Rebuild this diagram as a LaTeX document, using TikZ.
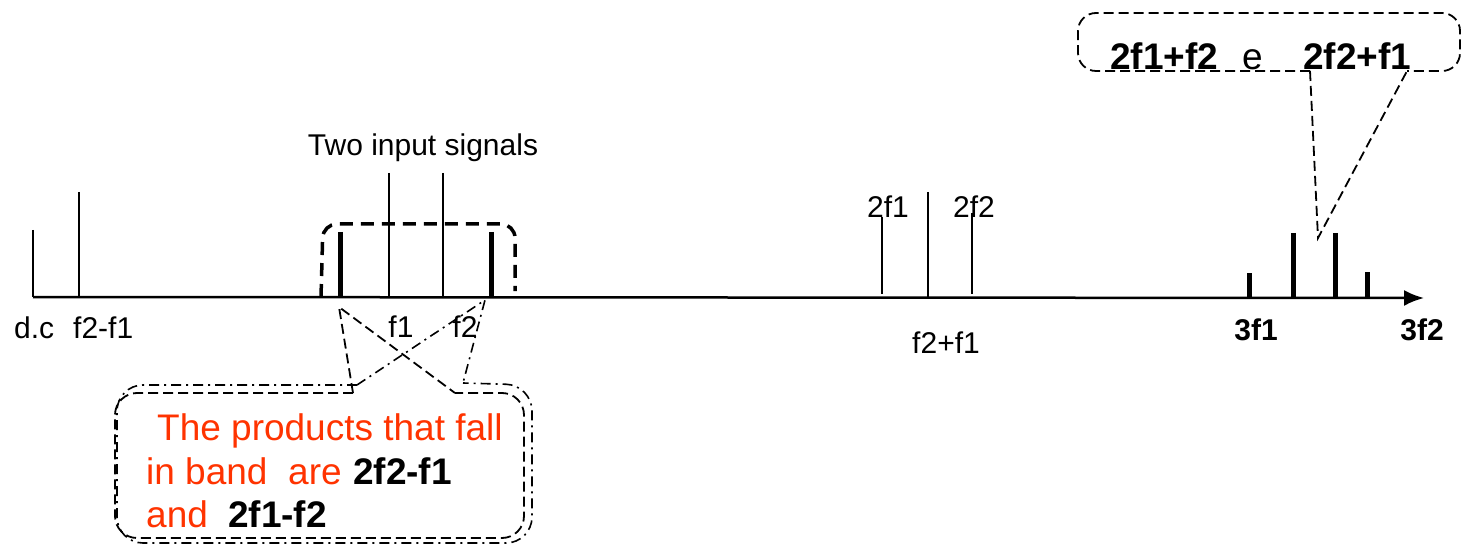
\documentclass[tikz,border=0pt]{standalone}
\usepackage{fontspec}
\setmainfont{Liberation Sans}
\usetikzlibrary{arrows.meta}
\definecolor{redtxt}{RGB}{255,51,0}
\begin{document}
\begin{tikzpicture}[x=1pt,y=-1pt,
  spec/.style={line width=2pt},
  barline/.style={line width=5pt},
  lbl/.style={font=\fontsize{30}{36}\selectfont, inner sep=0pt, anchor=base},
  blbl/.style={font=\fontsize{30}{36}\selectfont\bfseries, inner sep=0pt, anchor=base},
  bubtxt/.style={font=\fontsize{37}{44}\selectfont, inner sep=0pt, anchor=base west, text=redtxt},
  bubbold/.style={font=\fontsize{37}{44}\selectfont\bfseries, inner sep=0pt, anchor=base west, text=black},
  dashA/.style={line width=1.8pt, dash pattern=on 10pt off 5pt},
  dashdotA/.style={line width=1.6pt, dash pattern=on 10pt off 5pt on 2pt off 5pt},
  grpbox/.style={line width=3.5pt, dash pattern=on 13pt off 8pt}]
\useasboundingbox (0,0) rectangle (1463,545);
% axis
\coordinate (ax0) at (33,297);
\coordinate (ax1) at (1424,298);
\draw[line width=2.5pt, -{Latex[length=20pt,width=16pt]}] (ax0) -- (ax1);
% spectral lines
\draw[spec] (33,230) -- (33,297);
\draw[spec] (79,192) -- (79,298);
\draw[barline] (340,232) -- (340,297);
\draw[spec] (389,173) -- (389,297);
\draw[spec] (443,173) -- (443,297);
\draw[barline] (491,232) -- (491,298);
\draw[spec] (882,217) -- (882,294);
\draw[spec] (928,192) -- (928,298);
\draw[spec] (972,213) -- (972,294);
\draw[barline] (1249,273) -- (1249,299);
\draw[barline] (1293,233) -- (1293,299);
\draw[barline] (1335,233) -- (1335,299);
\draw[barline] (1367,272) -- (1367,299);
% group box
\draw[grpbox, rounded corners=14pt] (321,297) -- (323,224) -- (515,224) -- (515,291);
% labels
\node[lbl] (tis) at (423,156) {Two input signals};
\node[lbl, anchor=base west] (dc) at (14,338) {d.c};
\node[lbl, anchor=base west] (f21) at (73,338) {f2-f1};
\node[lbl] (f1) at (401,337) {f1};
\node[lbl] (f2) at (465,337) {f2};
\node[lbl] (tf1) at (888,218) {2f1};
\node[lbl] (tf2) at (974,218) {2f2};
\node[lbl] (fsum) at (946,353) {f2+f1};
\node[blbl] (thf1) at (1256,340) {3f1};
\node[blbl] (thf2) at (1422,340) {3f2};
% bottom callouts
\coordinate (tipA) at (339,307);
\coordinate (baseA1) at (353,393);
\coordinate (baseA2) at (455,393);
\draw[dashA, rounded corners=22pt] (baseA1) -- (115,393) -- (115,538) -- (524,538) -- (524,393) -- (baseA2);
\draw[dashA] (baseA1) -- (tipA) -- (baseA2);
\coordinate (tipB) at (485,300);
\coordinate (baseB1) at (357,385);
\coordinate (baseB2) at (463,383);
\draw[dashdotA, rounded corners=26pt] (baseB1) -- (117,385) -- (117,543) -- (532,543) -- (532,385) -- (baseB2);
\draw[dashdotA] (baseB1) -- (tipB) -- (baseB2);
\node[bubtxt] (b1) at (157,440) {The products that fall};
\node[bubtxt] (b2a) at (146,484) {in band};
\node[bubtxt] (b2b) at (288,484) {are};
\node[bubbold] (b2c) at (353,484) {2f2-f1};
\node[bubtxt] (b3a) at (146,527) {and};
\node[bubbold] (b3b) at (228,527) {2f1-f2};
% top callout
\coordinate (tipC) at (1318,238);
\coordinate (baseC1) at (1310,71);
\coordinate (baseC2) at (1407,71);
\draw[dashA, rounded corners=18pt] (baseC1) -- (1078,71) -- (1078,13) -- (1460,13) -- (1460,71) -- (baseC2);
\draw[dashA] (baseC1) -- (tipC) -- (baseC2);
\node[bubbold] (t1) at (1110,70) {2f1+f2};
\node[bubtxt, text=black] (t2) at (1242,70) {e};
\node[bubbold] (t3) at (1303,70) {2f2+f1};
\end{tikzpicture}
\end{document}
